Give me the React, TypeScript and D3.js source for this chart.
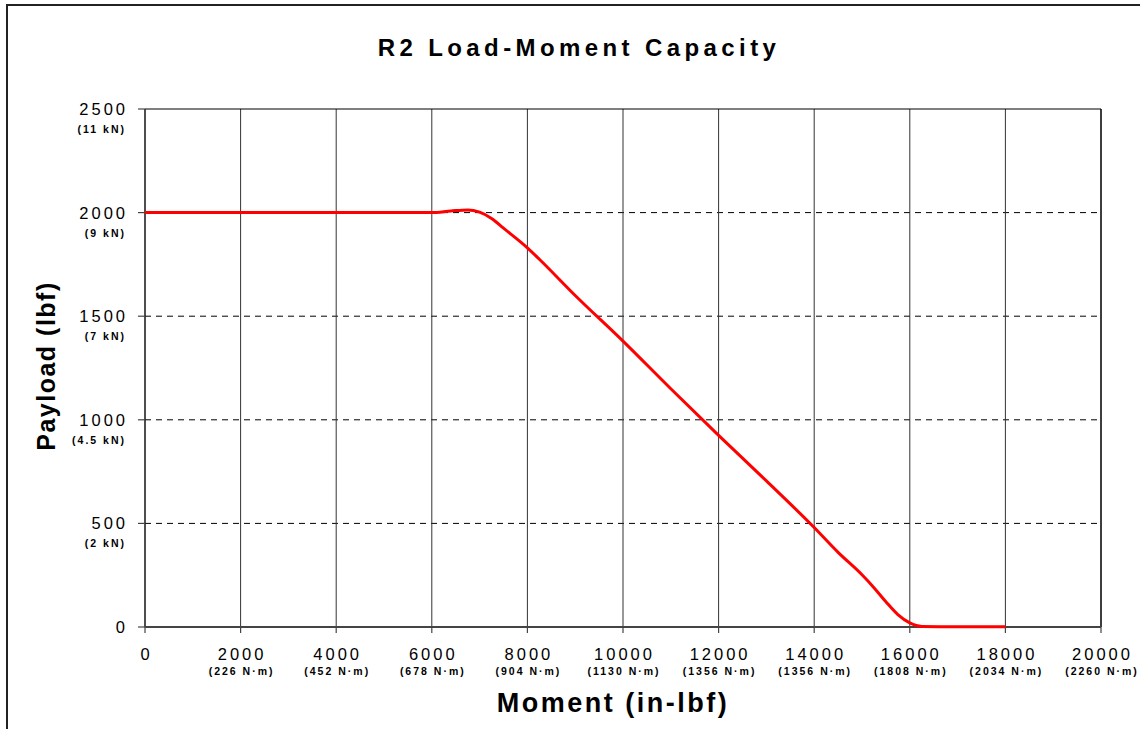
import React from "react";
import * as d3 from "d3";

const momentTicks = [0, 2000, 4000, 6000, 8000, 10000, 12000, 14000, 16000, 18000, 20000];
const momentMetric = ["", "(226 N·m)", "(452 N·m)", "(678 N·m)", "(904 N·m)", "(1130 N·m)", "(1356 N·m)", "(1356 N·m)", "(1808 N·m)", "(2034 N·m)", "(2260 N·m)"];
const payloadTicks = [0, 500, 1000, 1500, 2000, 2500];
const payloadMetric = ["", "(2 kN)", "(4.5 kN)", "(7 kN)", "(9 kN)", "(11 kN)"];

// capacity curve
const moment = [0, 6000, 6400, 6750, 7000, 7250, 7500, 8000, 8250, 9000, 10000, 11000, 12000, 13000, 14000, 14500, 15000, 15250, 15500, 15750, 16000, 16250, 17000, 18000];
const payload = [2000, 2000, 2008, 2013, 2002, 1972, 1925, 1830, 1775, 1600, 1380, 1150, 925, 705, 480, 360, 252, 190, 122, 60, 20, 3, 1, 1];

const W = 1140;
const H = 729;
const margin = { top: 109, right: 39, bottom: 102, left: 145 };
const font = "Arial, 'Liberation Sans', sans-serif";

export default function App() {
  const innerW = W - margin.left - margin.right;
  const innerH = H - margin.top - margin.bottom;

  const x = d3.scaleLinear().domain([0, 20000]).range([0, innerW]);
  const y = d3.scaleLinear().domain([0, 2500]).range([innerH, 0]);

  const pts = moment.map((m, i) => [m, payload[i]] as [number, number]);
  const line = d3
    .line<[number, number]>()
    .x((d) => x(d[0]))
    .y((d) => y(d[1]))
    .curve(d3.curveMonotoneX);

  return (
    <svg
      width={W}
      height={H}
      style={{ position: "absolute", left: 0, top: 0, background: "#fff" }}
      fontFamily={font}
    >
      <rect x={7} y={5} width={1200} height={800} fill="#fff" stroke="#222" strokeWidth={2} />

      <text x={577} dx={2} y={56} textAnchor="middle" fontSize={24} fontWeight="bold" letterSpacing={4.4} fill="#000">
        R2 Load-Moment Capacity
      </text>

      <g transform={`translate(${margin.left},${margin.top})`}>
        {/* horizontal dashed grid */}
        {payloadTicks.filter((t) => t > 0 && t < 2500).map((t) => (
          <line key={"hg" + t} x1={0} x2={innerW} y1={y(t)} y2={y(t)} stroke="#000" strokeWidth={1} strokeDasharray="6,5" />
        ))}
        {/* vertical grid */}
        {momentTicks.filter((t) => t > 0).map((t) => (
          <line key={"vg" + t} x1={x(t)} x2={x(t)} y1={0} y2={innerH} stroke="#333" strokeWidth={1} />
        ))}
        <line x1={0} x2={innerW} y1={0} y2={0} stroke="#000" strokeWidth={1.2} />
        <line x1={innerW} x2={innerW} y1={0} y2={innerH} stroke="#000" strokeWidth={1.2} />

        {/* y axis */}
        <line x1={0} x2={0} y1={0} y2={innerH} stroke="#222" strokeWidth={1.6} />
        {payloadTicks.map((t, i) => (
          <g key={"yt" + t} transform={`translate(0,${y(t)})`}>
            <line x1={-7} x2={0} stroke="#444" strokeWidth={1.2} />
            <text x={-20} dx={3} y={6} textAnchor="end" fontSize={16.5} letterSpacing={3} fill="#000">
              {t}
            </text>
            {payloadMetric[i] && (
              <text x={-21} dx={2} y={24} textAnchor="end" fontSize={10.5} fontWeight="bold" letterSpacing={2} fill="#000">
                {payloadMetric[i]}
              </text>
            )}
          </g>
        ))}

        {/* x axis */}
        <line x1={0} x2={innerW} y1={innerH} y2={innerH} stroke="#444" strokeWidth={2.2} />
        {momentTicks.map((t, i) => (
          <g key={"xt" + t} transform={`translate(${x(t)},${innerH})`}>
            <line y1={0} y2={6} stroke="#444" strokeWidth={1.2} />
            <text x={1.5} y={33} textAnchor="middle" fontSize={16.5} letterSpacing={3} fill="#000">
              {t}
            </text>
            {momentMetric[i] && (
              <text x={1} y={48} textAnchor="middle" fontSize={10.5} fontWeight="bold" letterSpacing={2} fill="#000">
                {momentMetric[i]}
              </text>
            )}
          </g>
        ))}

        <path d={line(pts) ?? ""} fill="none" stroke="#ff0000" strokeWidth={3} strokeLinejoin="round" />
      </g>

      <text x={613} y={712} textAnchor="middle" fontSize={27} fontWeight="bold" letterSpacing={2.5} fill="#000">
        Moment (in-lbf)
      </text>
      <text
        transform="translate(55,366) rotate(-90)"
        textAnchor="middle"
        fontSize={25}
        fontWeight="bold"
        letterSpacing={1.5}
        fill="#000"
      >
        Payload (lbf)
      </text>
    </svg>
  );
}
